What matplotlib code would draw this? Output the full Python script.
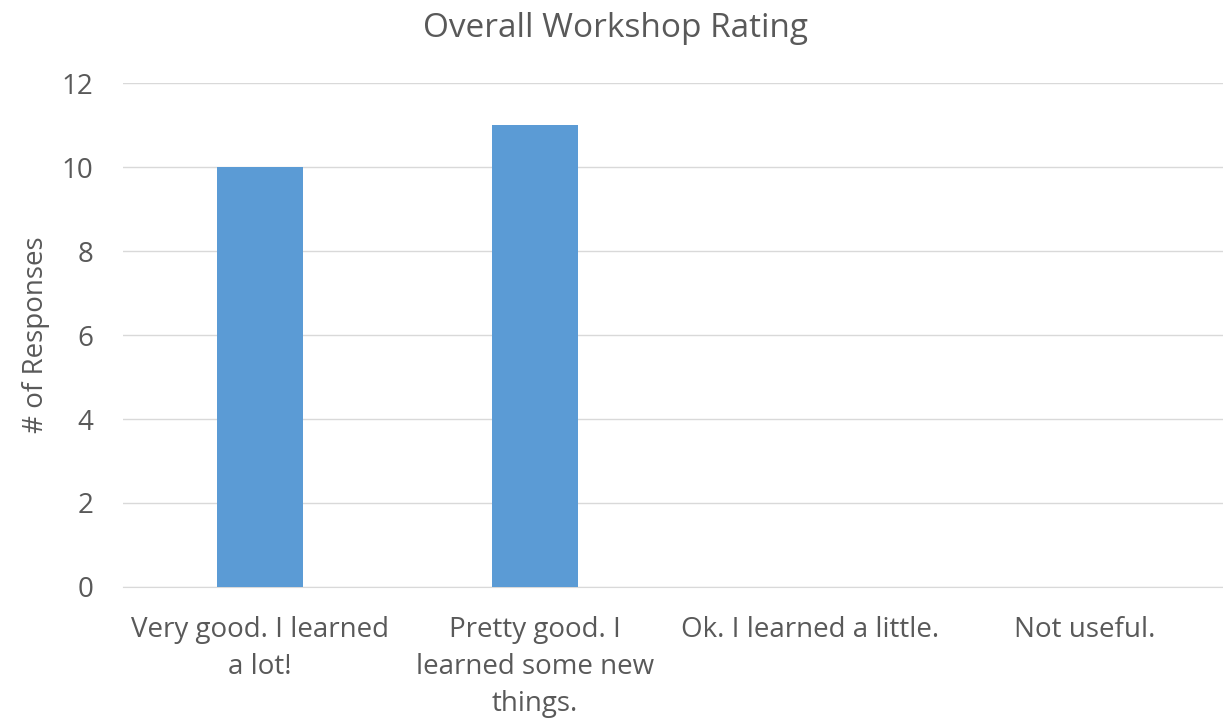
import matplotlib.pyplot as plt

plt.rcParams['font.family'] = ['Open Sans', 'DejaVu Sans']

categories = ['Very good. I learned\na lot!', 'Pretty good. I\nlearned some new\nthings.',
              'Ok. I learned a little.', 'Not useful.']
responses = [10, 11, 0, 0]
yticks = [0, 2, 4, 6, 8, 10, 12]

txt = '#595959'
fig = plt.figure(figsize=(12.23, 7.22), dpi=100)
ax = fig.add_axes([0.1002, 0.187, 0.8994, 0.698])

x = range(len(categories))
ax.bar(x, responses, width=0.31, color='#5B9BD5', zorder=3)

ax.set_xlim(-0.5, len(categories) - 0.5)
ax.set_ylim(0, 12)
ax.set_yticks(yticks)
ax.set_xticks(list(x))
ax.set_xticklabels(categories, fontsize=20, color=txt, linespacing=1.42)
ax.tick_params(axis='y', labelsize=20, labelcolor=txt, length=0, pad=21)
ax.tick_params(axis='x', length=0, pad=21)
ax.grid(axis='y', color='#D9D9D9', linewidth=1, zorder=0)
for s in ['top', 'right', 'left']:
    ax.spines[s].set_visible(False)
ax.spines['bottom'].set_color('#D9D9D9')

ax.set_ylabel('# of Responses', fontsize=20, color=txt)
ax.yaxis.set_label_coords(-0.066, 0.5)
fig.suptitle('Overall Workshop Rating', fontsize=24, color=txt, x=0.503, y=0.983)

fig.savefig('out.png', dpi=100)
